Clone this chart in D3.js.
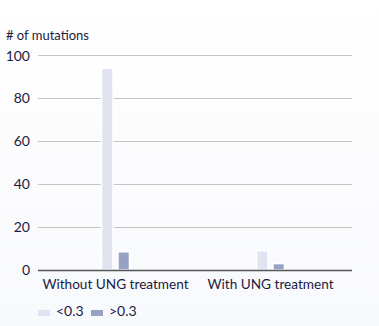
<!DOCTYPE html>
<html><head><meta charset="utf-8">
<script src="https://cdn.jsdelivr.net/npm/d3@7"></script>
<style>
html,body{margin:0;padding:0;background:#fbfbfd;}
svg{display:block;font-family:"Century Gothic","URW Gothic",Lato,"Open Sans",sans-serif;}
</style></head>
<body>
<svg id="c" width="379" height="326"></svg>
<script>
const categories = ["Without UNG treatment", "With UNG treatment"];
const seriesNames = ["<0.3", ">0.3"];
const lowValues = [94, 9];
const highValues = [8.5, 3];
const yTicks = [0, 20, 40, 60, 80, 100];
const colors = ["#e1e4f0", "#97a1c3"];

const svg = d3.select("#c");
const defs = svg.append("defs");
const g0 = defs.append("linearGradient").attr("id","bg").attr("x1",0).attr("y1",0).attr("x2",0).attr("y2",1);
g0.append("stop").attr("offset","0%").attr("stop-color","#ffffff");
g0.append("stop").attr("offset","100%").attr("stop-color","#f8f9fc");
svg.append("rect").attr("width",379).attr("height",326).attr("fill","url(#bg)");

const y = d3.scaleLinear().domain([0,100]).range([270,55.5]);
const x = d3.scaleBand().domain(categories).range([38,348]).padding(0);
const xs = d3.scaleBand().domain(seriesNames).range([-14,14]).paddingInner(0.3);

const textColor = "#1b1b3f";

// gridlines
svg.append("g").selectAll("line").data(yTicks.filter(d=>d>0)).join("line")
  .attr("x1",38).attr("x2",352).attr("y1",d=>y(d)).attr("y2",d=>y(d))
  .attr("stroke","#c4c4c4").attr("stroke-width",1).attr("shape-rendering","crispEdges");

// y tick labels
svg.append("g").selectAll("text").data(yTicks).join("text")
  .attr("x",30).attr("y",d=>y(d)+5).attr("text-anchor","end")
  .attr("font-size",14).attr("fill",textColor).text(d=>d);

// title
svg.append("text").attr("x",6).attr("y",40).attr("font-size",13).attr("fill",textColor).text("# of mutations");

// bars
const data = categories.map((c,i)=>({c, vals:[lowValues[i], highValues[i]]}));
const grp = svg.append("g").selectAll("g").data(data).join("g")
  .attr("transform",d=>`translate(${x(d.c)+x.bandwidth()/2},0)`);
grp.selectAll("rect").data(d=>d.vals.map((v,j)=>({v,s:seriesNames[j],j}))).join("rect")
  .attr("x",d=>xs(d.s)).attr("width",xs.bandwidth())
  .attr("y",d=>y(d.v)).attr("height",d=>y(0)-y(d.v))
  .attr("fill",d=>colors[d.j]).attr("stroke","#ffffff").attr("stroke-width",1.5);

// axis line
svg.append("line").attr("x1",38).attr("x2",352).attr("y1",270.5).attr("y2",270.5)
  .attr("stroke","#555").attr("stroke-width",1.3);

// x labels
svg.append("g").selectAll("text").data(categories).join("text")
  .attr("x",d=>x(d)+x.bandwidth()/2).attr("y",289).attr("text-anchor","middle")
  .attr("font-size",13.6).attr("fill",textColor).text(d=>d);

// legend
const leg = svg.append("g").selectAll("g").data(seriesNames).join("g")
  .attr("transform",(d,i)=>`translate(${38+i*53},312)`);
leg.append("rect").attr("x",0).attr("y",-2).attr("width",12).attr("height",6).attr("fill",(d,i)=>colors[i]);
leg.append("text").attr("x",18).attr("y",4).attr("font-size",14).attr("fill",textColor).text(d=>d);
</script>
</body></html>
